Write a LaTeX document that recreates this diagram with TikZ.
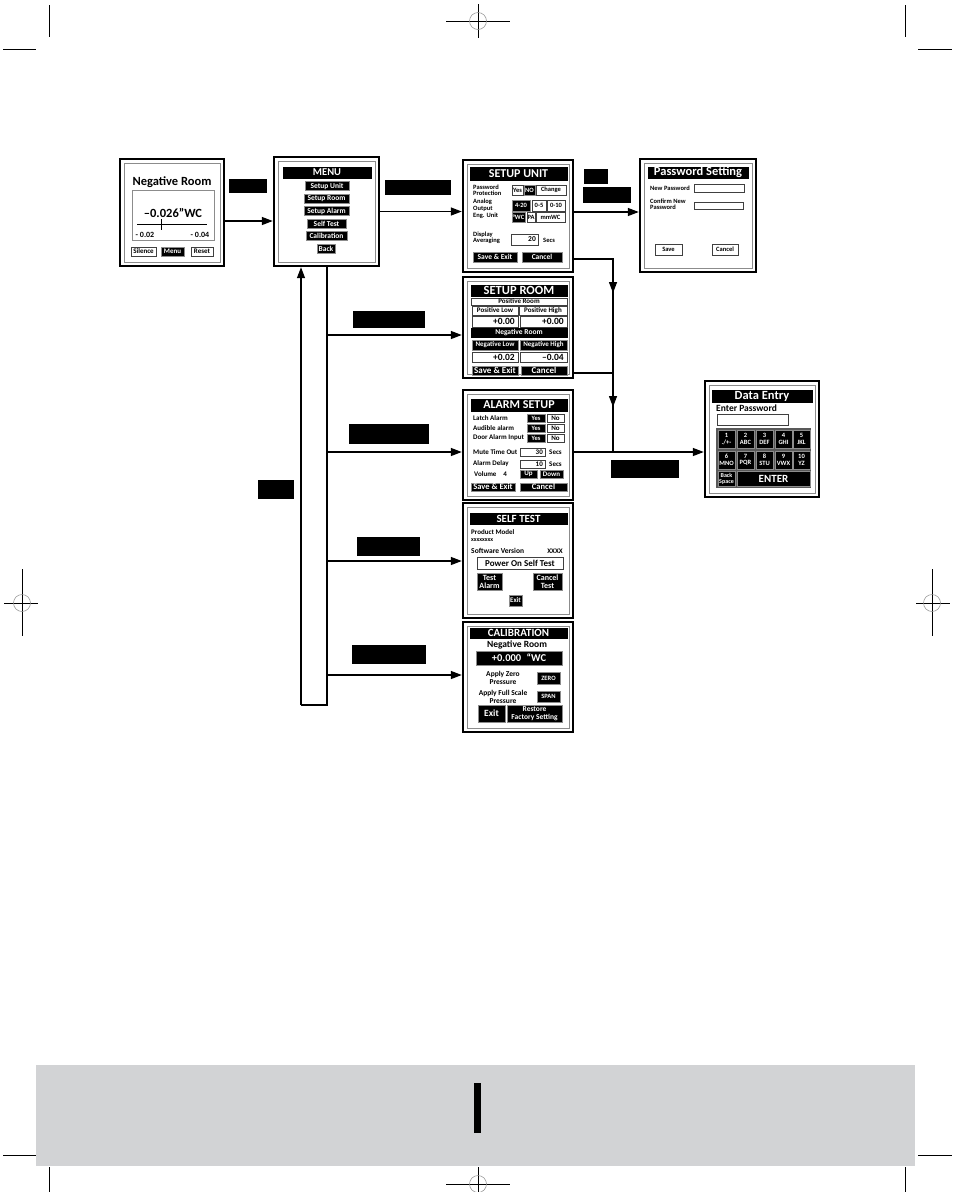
\documentclass[tikz,border=0pt]{standalone}
\usepackage{fontspec}
\setmainfont{Carlito}
\usetikzlibrary{arrows.meta, positioning, calc, fit}
\definecolor{cband}{HTML}{D2D3D5}
\definecolor{cline}{HTML}{8C8C8C}
\newcommand{\fsz}[1]{\fontsize{#1}{#1}\selectfont\bfseries}
\tikzset{
  every picture/.style={x=1pt, y=-1pt, font=\bfseries},
  screen/.style={draw, line width=2.4pt, fill=white, inner sep=0pt},
  scrline/.style={draw=cline, line width=.5pt},
  bar/.style={fill=black, text=white},
  bk/.style={fill=black, draw=black!45, line width=.4pt, text=white},
  wk/.style={fill=white, draw=black!75, line width=.5pt, text=black},
  key/.style={inner sep=0pt, align=center},
  tag/.style={fill=black, inner sep=0pt},
  arrow/.style={-{Triangle[length=11pt, width=8pt]}, line width=1.3pt},
  link/.style={line width=1.3pt},
  crop/.style={line width=.7pt},
}
% screen frame: name, top-left x/y, bottom-right x/y
\newcommand{\scrn}[5]{%
  \node[screen, fit={(#2,#3) (#4,#5)}] (#1) {};
  \draw[scrline] ($(#2,#3)+(4,4)$) rectangle ($(#4,#5)+(-4,-4)$);}
\begin{document}
\begin{tikzpicture}
  \useasboundingbox (0,0) rectangle (954,1192);

  % crop marks
  \draw[crop] (49,5) -- (49,37) (3,49) -- (36,49) (905,5) -- (905,37) (918,49) -- (952,49);
  \draw[crop] (478,4) -- (478,38) (446,21) -- (510,21);
  \draw[crop] (22,569) -- (22,636) (4,603) -- (38,603);
  \draw[crop] (932,569) -- (932,636) (916,603) -- (950,603);
  \fill[cband] (36,1065) rectangle (915,1166);
  \fill (474,1083) rectangle (481,1133);
  \draw[crop] (3,1155) -- (36,1155) (918,1155) -- (952,1155) (49,1167) -- (49,1192) (905,1167) -- (905,1192);
  \draw[crop] (478,1167) -- (478,1192) (446,1184) -- (510,1184);
  \foreach \cx/\cy in {478/21, 22/603, 932/603, 478/1184}
    \draw[black!45, line width=.5pt] (\cx,\cy) circle (8.5);

  % negative room
  \scrn{neg}{120}{159}{224}{266}
  \node[key, font=\fsz{12.5}] (negt) at (172,182) {Negative Room};
  \draw[scrline] (132,190) rectangle (214,240);
  \node[key, font=\fsz{12.5}] (negv) at (173,213) {–0.026”WC};
  \draw[line width=.5pt] (137,224) -- (207,224) (161,219) -- (161,230);
  \node[key, font=\fsz{8}] (neglo) at (145,235) {- 0.02};
  \node[key, font=\fsz{8}] (neghi) at (200,235) {- 0.04};
  \draw[wk] (131,247) rectangle (156,256) node[midway, key, font=\fsz{7}] (silence) {Silence};
  \draw[bk] (161,247) rectangle (184,256) node[midway, key, font=\fsz{7}] (negmenu) {Menu};
  \draw[wk] (191,247) rectangle (213,256) node[midway, key, font=\fsz{7}] (reset) {Reset};

  % menu
  \scrn{menu}{274}{157}{379}{266}
  \draw[bar] (283,167) rectangle (371,178) node[midway, key, font=\fsz{10.5}] (menut) {MENU};
  \foreach \i/\xa/\xb/\yc/\t in {1/305/349/186/Setup Unit, 2/304/349/199/Setup Room,
      3/304/349/211/Setup Alarm, 4/307/346/224/Self Test, 5/306/347/236/Calibration, 6/317/335/249/Back}
    \draw[bk] (\xa,\yc-4.5) rectangle (\xb,\yc+4.5) node[midway, key, font=\fsz{7.5}] (mb\i) {\t};

  % setup unit
  \scrn{unit}{463}{160}{573}{272}
  \draw[bar] (470,167) rectangle (567,180) node[midway, key, font=\fsz{12}] (unitt) {SETUP UNIT};
  \foreach \n/\y/\t in {1/190/{Password\\Protection}, 2/205/{Analog\\Output}, 3/216/{Eng. Unit}, 4/238/{Display\\Averaging}}
    \node[key, anchor=west, align=left, font=\fsz{6.5}] (ul\n) at (473,\y) {\t};
  \foreach \n/\s/\xa/\ya/\xb/\yb/\t in {
      1/wk/512/185/523/195/Yes, 2/bk/524/185/535/195/NO, 3/wk/536/185/566/195/Change,
      4/bk/512/200/530/211/4-20, 5/wk/532/200/546/211/0-5, 6/wk/547/200/565/211/0-10,
      7/bk/512/212/525/222/°WC, 8/wk/527/212/535/222/PA, 9/wk/536/212/565/222/mmWC}
    \draw[\s] (\xa,\ya) rectangle (\xb,\yb) node[midway, key, font=\fsz{6.5}] (uk\n) {\t};
  \draw[wk] (511,234) rectangle (538,245);
  \node[key, anchor=east, font=\fsz{7.5}] (avg) at (536,239.5) {20};
  \node[key, anchor=west, font=\fsz{6.5}] (avgs) at (543,240) {Secs};
  \draw[bk] (473,252) rectangle (517,262) node[midway, key, font=\fsz{7.5}] (usave) {Save \& Exit};
  \draw[bk] (522,252) rectangle (562,262) node[midway, key, font=\fsz{7.5}] (ucancel) {Cancel};

  % password setting
  \scrn{pass}{640}{159}{756}{272}
  \draw[bar] (648,167) rectangle (748,178) node[midway, key, font=\fsz{12.5}] (passt) {Password Setting};
  \node[key, anchor=west, font=\fsz{6.5}] (newpw) at (650,188) {New Password};
  \draw[wk] (694,184) rectangle (744,192);
  \node[key, anchor=west, align=left, font=\fsz{6.5}] (confpw) at (650,204) {Confirm New\\Password};
  \draw[wk] (694,202) rectangle (743,209);
  \draw[wk] (655,244) rectangle (682,255) node[midway, key, font=\fsz{6.5}] (psave) {Save};
  \draw[wk] (712,244) rectangle (738,255) node[midway, key, font=\fsz{6.5}] (pcancel) {Cancel};

  % setup room
  \scrn{room}{463}{277}{573}{378}
  \draw[bar] (471,285) rectangle (567,296) node[midway, key, font=\fsz{12.5}] (roomt) {SETUP ROOM};
  \foreach \n/\s/\xa/\ya/\xb/\yb/\f/\t in {
      1/wk/471/298/567/305/7/Positive Room,
      2/wk/472/306/518/315/7/Positive Low, 3/wk/519/306/567/315/7/Positive High,
      4/bar/471/328/567/337/7.5/Negative Room,
      5/bk/472/340/518/350/7/Negative Low, 6/bk/520/340/567/350/7/Negative High,
      7/bk/472/366/518/375/9/Save \& Exit, 8/bk/521/366/567/375/9/Cancel}
    \draw[\s] (\xa,\ya) rectangle (\xb,\yb) node[midway, key, font=\fsz{\f}] (rk\n) {\t};
  \foreach \n/\xa/\ya/\xb/\yb/\t in {1/472/316/518/327/+0.00, 2/520/316/567/327/+0.00,
      3/472/352/518/362/+0.02, 4/520/352/567/362/–0.04} {
    \draw[wk] (\xa,\ya) rectangle (\xb,\yb);
    \node[key, anchor=east, font=\fsz{9.5}] (rv\n) at (\xb-3,{(\ya+\yb)/2}) {\t};
  }

  % alarm setup
  \scrn{alarm}{463}{390}{573}{500}
  \draw[bar] (471,399) rectangle (567,411) node[midway, key, font=\fsz{12}] (alarmt) {ALARM SETUP};
  \foreach \n/\y/\t in {1/418/Latch Alarm, 2/428/Audible alarm, 3/438/Door Alarm Input} {
    \node[key, anchor=west, font=\fsz{7}] (al\n) at (473,\y) {\t};
    \draw[bk] (527,\y-4) rectangle (545,\y+4) node[midway, key, font=\fsz{6.5}] (ay\n) {Yes};
    \draw[wk] (547,\y-4) rectangle (564,\y+4) node[midway, key, font=\fsz{7}] (an\n) {No};
  }
  \foreach \n/\y/\t/\v in {1/452/Mute Time Out/30, 2/464/Alarm Delay/10} {
    \node[key, anchor=west, font=\fsz{7}] (am\n) at (473,\y) {\t};
    \draw[wk] (520,\y-4) rectangle (545,\y+4);
    \node[key, anchor=east, font=\fsz{7}] (amv\n) at (543,\y) {\v};
    \node[key, anchor=west, font=\fsz{7}] (ams\n) at (549,\y) {Secs};
  }
  \node[key, anchor=west, font=\fsz{7}] (vol) at (474,474) {Volume\hspace{7pt}4};
  \draw[bk] (520,470) rectangle (537,478) node[midway, key, font=\fsz{7}] (volup) {Up};
  \draw[bk] (540,470) rectangle (563,478) node[midway, key, font=\fsz{7}] (voldn) {Down};
  \draw[bk] (471,483) rectangle (515,491) node[midway, key, font=\fsz{8.5}] (asave) {Save \& Exit};
  \draw[bk] (520,483) rectangle (567,491) node[midway, key, font=\fsz{8.5}] (acancel) {Cancel};

  % data entry
  \scrn{data}{705}{381}{819}{497}
  \draw[bar] (712,390) rectangle (812,402) node[midway, key, font=\fsz{12.5}] (datat) {Data Entry};
  \node[key, anchor=west, font=\fsz{9.5}] (enterpw) at (716,408) {Enter Password};
  \draw[wk] (717,414) rectangle (788,425);
  \fill[black!65] (716,428) rectangle (811,488);
  \foreach \n/\xa/\ya/\t in {1/718/430/{1\\./+-}, 2/737/430/{2\\ABC}, 3/756/430/{3\\DEF},
      4/775/430/{4\\GHI}, 5/793/430/{5\\JKL}, 6/718/451/{6\\MNO}, 7/737/451/{7\\PQR},
      8/756/451/{8\\STU}, 9/775/451/{9\\VWX}, 10/793/451/{10\\YZ}}
    \draw[bk] (\xa,\ya) rectangle ++(17,18) node[midway, key, font=\fsz{6.5}] (key\n) {\t};
  \draw[bk] (718,471) rectangle (735,486) node[midway, key, font=\fsz{6}] (keyback) {Back\\Space};
  \draw[bk] (737,471) rectangle (810,486) node[midway, key, font=\fsz{11}] (keyenter) {ENTER};

  % self test
  \scrn{self}{463}{503}{573}{618}
  \draw[bar] (470,513) rectangle (567,524) node[midway, key, font=\fsz{11}] (selft) {SELF TEST};
  \node[key, anchor=west, font=\fsz{7}] (model) at (471,532) {Product Model};
  \node[key, anchor=west, font=\fsz{6}] (modelx) at (471,540) {xxxxxxxx};
  \node[key, anchor=west, font=\fsz{7.5}] (softv) at (471,551) {Software Version};
  \node[key, anchor=east, font=\fsz{7}] (softx) at (563,551) {XXXX};
  \draw[wk] (477,557) rectangle (563,569) node[midway, key, font=\fsz{9}] (post) {Power On Self Test};
  \draw[bk] (477,573) rectangle (502,590) node[midway, key, font=\fsz{8}] (testal) {Test\\Alarm};
  \draw[bk] (533,573) rectangle (562,590) node[midway, key, font=\fsz{8}] (canceltest) {Cancel\\Test};
  \draw[bk] (509,595) rectangle (522,606) node[midway, key, font=\fsz{7}] (selfexit) {Exit};

  % calibration
  \scrn{calib}{463}{622}{573}{732}
  \draw[bar] (470,628) rectangle (567,638) node[midway, key, font=\fsz{11}] (calibt) {CALIBRATION};
  \node[key, font=\fsz{9.5}] (calroom) at (517,645) {Negative Room};
  \draw[bk] (476,651) rectangle (562,665) node[midway, key, font=\fsz{10.5}] (calval) {+0.000\enspace“WC};
  \node[key, font=\fsz{7.5}] (applyz) at (503,678) {Apply Zero\\Pressure};
  \node[key, font=\fsz{7.5}] (applyf) at (503,697) {Apply Full Scale\\Pressure};
  \draw[bk] (537,672) rectangle (560,684) node[midway, key, font=\fsz{6.5}] (zero) {ZERO};
  \draw[bk] (537,691) rectangle (560,702) node[midway, key, font=\fsz{6.5}] (span) {SPAN};
  \draw[bk] (478,705) rectangle (505,722) node[midway, key, font=\fsz{9.5}] (calexit) {Exit};
  \draw[bk] (507,705) rectangle (562,722) node[midway, key, font=\fsz{7.5}] (restore) {Restore\\Factory Setting};

  % label boxes
  \foreach \n/\xa/\ya/\xb/\yb in {1/229/179/267/193, 2/385/180/451/195, 3/584/169/608/184,
      4/583/187/631/203, 5/353/311/425/328, 6/349/424/429/444, 7/357/537/420/556,
      8/352/645/426/664, 9/258/480/294/499, 10/611/460/679/478}
    \node[tag, fit={(\xa,\ya) (\xb,\yb)}] (tag\n) {};

  % connectors
  \draw[arrow] ([yshift=-8.5pt]neg.east) -- ([yshift=-8.5pt]neg.east -| menu.west);
  \draw[arrow] (menu.east) -- (menu.east -| unit.west);
  \draw[arrow] ([yshift=4pt]unit.east) -- ([yshift=4pt]unit.east -| pass.west);
  \coordinate (busbot) at (327,705);
  \coordinate (retbot) at (301,705);
  \draw[link] (menu.south -| busbot) -- (busbot) -- (retbot);
  \draw[arrow] (retbot) -- (retbot |- menu.south);
  \foreach \s/\y in {room/335, alarm/452, self/561, calib/675} {
    \coordinate (b\s) at (327,\y);
    \draw[arrow] (b\s) -- (b\s -| \s.west);
  }
  \coordinate (ru) at (613,259);
  \coordinate (rr) at (613,373);
  \coordinate (ja) at (613,452);
  \draw[link] (unit.east |- ru) -- (ru) -- (ja);
  \draw[link] (room.east |- rr) -- (rr);
  \draw[arrow] (ru) -- ($(ru)+(0,34)$);
  \draw[arrow] (rr) -- ($(rr)+(0,34)$);
  \draw[arrow] (alarm.east |- ja) -- (ja -| data.west);
\end{tikzpicture}
\end{document}
